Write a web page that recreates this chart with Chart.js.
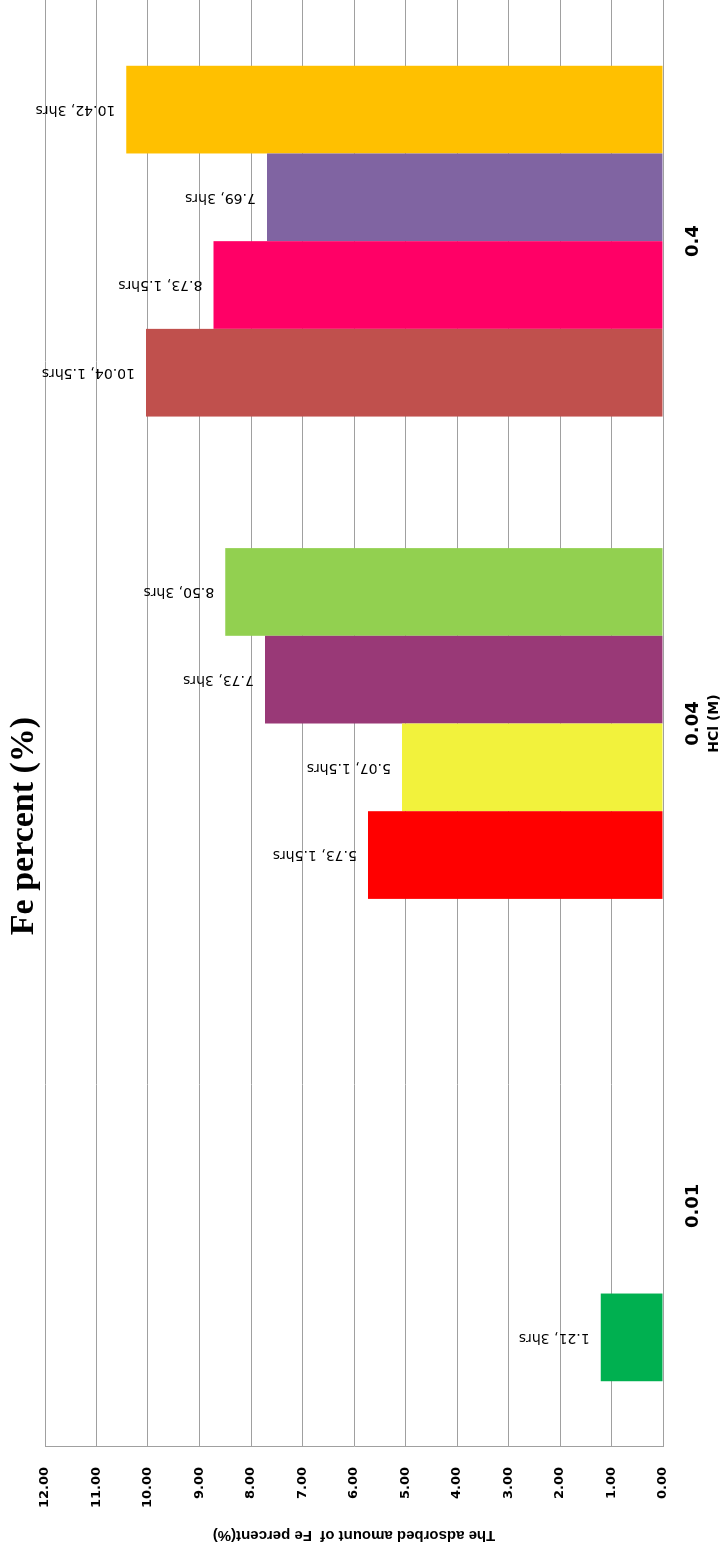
<!DOCTYPE html>
<html>
<head>
<meta charset="utf-8">
<script src="https://cdn.jsdelivr.net/npm/chart.js@4.4.1/dist/chart.umd.min.js"></script>
<style>
  html, body { margin: 0; padding: 0; background: #fff; overflow: hidden; width: 721px; height: 1558px; }
  /* the column chart is laid out landscape and turned a quarter turn counter-clockwise */
  #wrap { position: absolute; left: 0; top: 0; width: 1558px; height: 721px;
          transform-origin: 0 0; transform: translate(0, 1558px) rotate(-90deg); }
</style>
</head>
<body>
<div id="wrap"><canvas id="c" width="1558" height="721"></canvas></div>
<script>
// HCl concentration (M)
const categories = ['0.01', '0.04', '0.4'];

// adsorbed Fe percent, one array per bar slot in each group
const slot1 = [1.21, 5.73, 10.04];
const slot2 = [null, 5.07, 8.73];
const slot3 = [null, 7.73, 7.69];
const slot4 = [null, 8.50, 10.42];

// contact time shown next to each value
const time1 = ['3hrs', '1.5hrs', '1.5hrs'];
const time2 = [null, '1.5hrs', '1.5hrs'];
const time3 = [null, '3hrs', '3hrs'];
const time4 = [null, '3hrs', '3hrs'];

// bar fills
const fill1 = ['#00B050', '#FF0000', '#C0504D'];
const fill2 = ['#F2F23C', '#F2F23C', '#FF0066'];
const fill3 = ['#993977', '#993977', '#8064A2'];
const fill4 = ['#92D050', '#92D050', '#FFC000'];

const yMin = 0, yMax = 12, yStep = 1;

const titleText = 'Fe percent (%)';
const xTitle = 'HCl (M)';
const yTitle = 'The adsorbed amount of  Fe percent(%)';

const slots = [slot1, slot2, slot3, slot4];
const times = [time1, time2, time3, time4];
const fills = [fill1, fill2, fill3, fill4];

const valueLabels = {
  id: 'valueLabels',
  afterDatasetsDraw(chart) {
    const ctx = chart.ctx;
    ctx.save();
    ctx.font = '14px "DejaVu Sans"';
    ctx.fillStyle = '#000';
    ctx.textAlign = 'left';
    ctx.textBaseline = 'middle';
    chart.data.datasets.forEach((ds, di) => {
      const meta = chart.getDatasetMeta(di);
      meta.data.forEach((el, i) => {
        const v = ds.data[i];
        if (v === null || v === undefined) return;
        const txt = v.toFixed(2) + ', ' + times[di][i];
        ctx.save();
        ctx.translate(el.x, el.y - 11);
        ctx.rotate(-Math.PI / 2);
        ctx.fillText(txt, 0, 0);
        ctx.restore();
      });
    });
    ctx.restore();
  }
};

const chartHeading = {
  id: 'chartHeading',
  afterDraw(chart) {
    const ctx = chart.ctx;
    ctx.save();
    ctx.font = 'bold 34px "Liberation Serif"';
    ctx.fillStyle = '#000';
    ctx.textAlign = 'center';
    ctx.textBaseline = 'alphabetic';
    ctx.fillText(titleText, 732, 33);
    ctx.restore();
  }
};

new Chart(document.getElementById('c'), {
  type: 'bar',
  data: {
    labels: categories,
    datasets: slots.map((s, i) => ({
      data: s,
      backgroundColor: fills[i],
      borderWidth: 0,
      barPercentage: 1,
      categoryPercentage: 4 / 5.5
    }))
  },
  options: {
    responsive: false,
    animation: false,
    devicePixelRatio: 1,
    layout: { padding: { top: 45, left: 0, right: 0, bottom: 0 } },
    plugins: {
      legend: { display: false },
      title: { display: false },
      tooltip: { enabled: false }
    },
    scales: {
      x: {
        grid: { display: false },
        border: { display: true, color: '#a0a0a0', width: 1 },
        ticks: {
          color: '#000',
          font: { family: 'DejaVu Sans', weight: 'bold', size: 18 },
          padding: 12
        },
        title: {
          display: true,
          text: xTitle,
          color: '#000',
          font: { family: 'DejaVu Sans', weight: 'bold', size: 14, lineHeight: 1 },
          padding: { top: 0, bottom: 0 }
        },
        afterFit(s) { s.height = 58; }
      },
      y: {
        min: yMin,
        max: yMax,
        grid: { display: true, color: '#a0a0a0', lineWidth: 1, drawTicks: false },
        border: { display: true, color: '#a0a0a0', width: 1 },
        ticks: {
          stepSize: yStep,
          color: '#000',
          font: { family: 'DejaVu Sans', weight: 'bold', size: 13 },
          padding: 20,
          callback: v => Number(v).toFixed(2)
        },
        title: {
          display: true,
          text: yTitle,
          color: '#000',
          font: { family: 'Liberation Sans', weight: 'bold', size: 15, lineHeight: 1 },
          padding: { top: 15, bottom: 0 }
        },
        afterFit(s) { s.width = 111; }
      }
    }
  },
  plugins: [valueLabels, chartHeading]
});
</script>
</body>
</html>
